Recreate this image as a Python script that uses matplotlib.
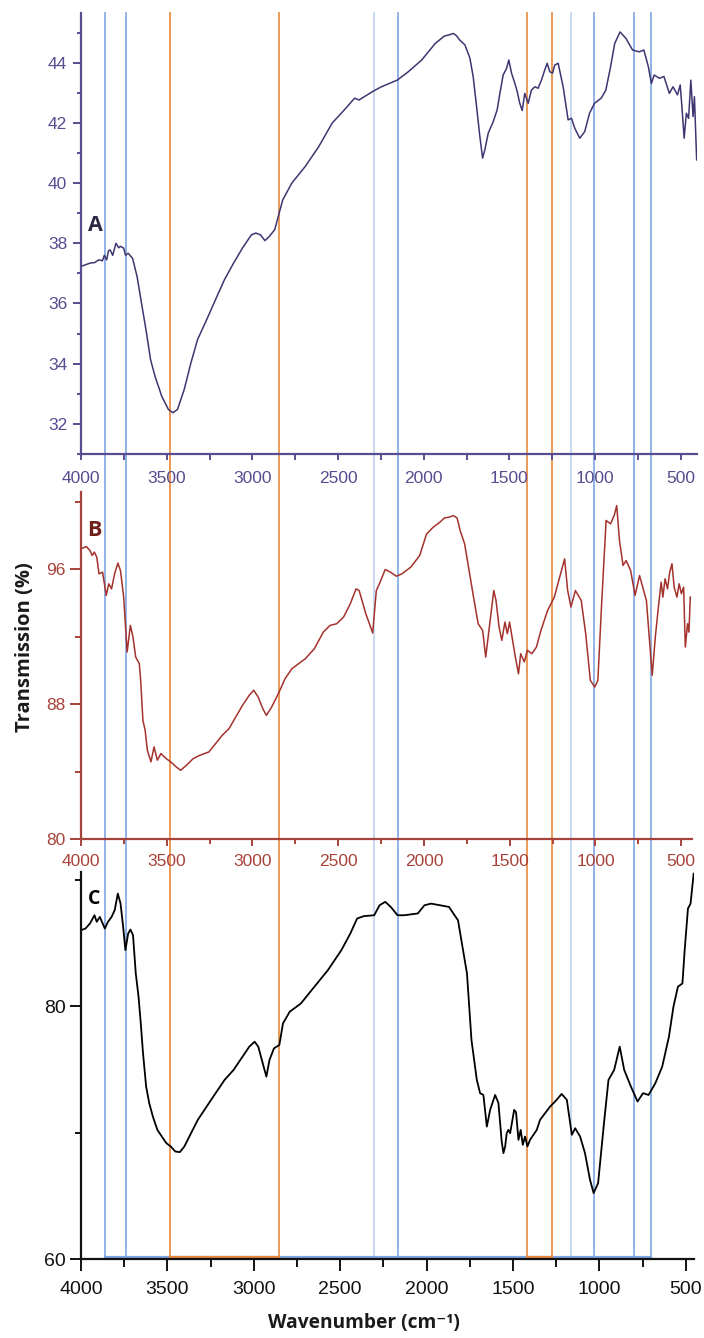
import numpy as np
import matplotlib.pyplot as plt
import matplotlib.transforms as mtransforms
from matplotlib.lines import Line2D
from matplotlib.ticker import MultipleLocator

plt.rcParams['font.family'] = ['Liberation Sans', 'DejaVu Sans']

# --- spectrum A (transmission %) ---
wn_a = [4000, 3948, 3920, 3895, 3875, 3864, 3850, 3840, 3830, 3815, 3796, 3780, 3770, 3751, 3740,
        3725, 3699, 3673, 3647, 3621, 3594, 3568, 3529, 3490, 3464, 3437, 3398, 3359, 3320, 3267,
        3215, 3163, 3110, 3058, 3006, 2980, 2953, 2927, 2901, 2870, 2849, 2823, 2770, 2692,
        2613, 2535, 2456, 2404, 2378, 2299, 2247, 2155, 2090, 2012, 1933, 1881, 1855, 1828, 1810,
        1790, 1760, 1731, 1712, 1692, 1673, 1657, 1644, 1624, 1595, 1572, 1556, 1537, 1517,
        1504, 1488, 1469, 1455, 1440, 1426, 1411, 1391, 1372, 1352, 1333, 1313, 1294, 1280,
        1265, 1249, 1236, 1216, 1187, 1158, 1138, 1119, 1090, 1061, 1033, 1004, 965, 938,
        912, 886, 855, 821, 782, 743, 716, 690, 672, 656, 625, 599, 567, 546, 520, 504, 494,
        481, 468, 455, 442, 429, 421, 408]
tr_a = [37.23, 37.34, 37.36, 37.45, 37.42, 37.6, 37.45, 37.75, 37.78, 37.6, 38.0, 37.85, 37.9, 37.84,
        37.6, 37.67, 37.5, 36.9, 36.01, 35.13, 34.13, 33.58, 32.92, 32.48, 32.37, 32.48, 33.14, 34.02,
        34.8, 35.46, 36.13, 36.79, 37.34, 37.84, 38.28, 38.34, 38.28, 38.09, 38.23, 38.45, 38.89,
        39.44, 40.0, 40.55, 41.21, 41.99, 42.48, 42.82, 42.76, 43.04, 43.2, 43.42, 43.7, 44.09,
        44.64, 44.88, 44.92, 44.97, 44.9, 44.75, 44.59, 44.15, 43.54, 42.54, 41.55, 40.83, 41.1,
        41.66, 42.04, 42.43, 42.98, 43.59, 43.81, 44.09, 43.65, 43.32, 43.04, 42.65, 42.41, 42.98,
        42.65, 43.09, 43.2, 43.15, 43.43, 43.76, 43.98, 43.7, 43.65, 43.92, 43.98, 43.2, 42.1,
        42.15, 41.82, 41.49, 41.71, 42.32, 42.65, 42.82, 43.09, 43.81, 44.64, 45.02, 44.81, 44.42,
        44.36, 44.42, 43.87, 43.31, 43.59, 43.48, 43.54, 42.98, 43.2, 42.93, 43.26, 42.54, 41.49,
        42.32, 42.15, 43.42, 42.21, 42.87, 40.77]

# --- spectrum B ---
wn_b = [4000, 3969, 3948, 3935, 3922, 3908, 3895, 3874, 3853, 3838, 3822, 3804, 3785, 3770,
        3751, 3731, 3712, 3697, 3681, 3660, 3652, 3639, 3626, 3613, 3592, 3574, 3555, 3534,
        3503, 3477, 3445, 3419, 3385, 3346, 3307, 3254, 3215, 3176, 3137, 3097, 3058, 3019,
        2993, 2967, 2940, 2919, 2888, 2849, 2810, 2770, 2731, 2692, 2639, 2587, 2548, 2509,
        2469, 2430, 2396, 2378, 2339, 2299, 2278, 2260, 2226, 2195, 2161, 2129, 2077, 2025,
        1985, 1946, 1907, 1881, 1855, 1828, 1807, 1789, 1763, 1737, 1711, 1684, 1658, 1640,
        1619, 1593, 1580, 1562, 1546, 1528, 1514, 1501, 1483, 1467, 1449, 1436, 1415, 1397,
        1371, 1344, 1318, 1279, 1240, 1214, 1180, 1162, 1143, 1117, 1083, 1057, 1030, 1004,
        986, 965, 938, 912, 891, 876, 860, 839, 821, 795, 769, 743, 703, 682, 669, 651, 633,
        617, 607, 594, 580, 567, 554, 541, 525, 512, 499, 486, 476, 463, 455, 447]
tr_b = [97.23, 97.36, 97.13, 96.83, 97.03, 96.73, 95.74, 95.84, 94.46, 95.15, 94.85, 95.74, 96.38, 95.94,
        94.36, 91.1, 92.68, 91.99, 90.8, 90.41, 89.42, 87.05, 86.45, 85.27, 84.58, 85.47, 84.68, 85.07,
        84.77, 84.58, 84.28, 84.08, 84.38, 84.77, 84.97, 85.17, 85.66, 86.16, 86.55, 87.25, 87.94, 88.53,
        88.83, 88.43, 87.74, 87.34, 87.84, 88.63, 89.52, 90.11, 90.41, 90.7, 91.3, 92.28, 92.68, 92.78,
        93.17, 93.96, 94.85, 94.75, 93.37, 92.23, 94.75, 95.15, 96.0, 95.84, 95.6, 95.74, 96.14, 96.83,
        98.11, 98.51, 98.81, 99.06, 99.1, 99.2, 99.06, 98.31, 97.52, 95.94, 94.36, 92.78, 92.38, 90.8,
        92.58, 94.75, 94.16, 92.58, 91.79, 92.88, 92.19, 92.88, 91.79, 90.8, 89.81, 91.0, 90.51, 91.2,
        91.0, 91.4, 92.38, 93.57, 94.36, 95.35, 96.63, 94.75, 93.77, 94.75, 94.16, 92.19, 89.42, 89.02,
        89.42, 93.77, 98.91, 98.71, 99.2, 99.79, 97.72, 96.24, 96.53, 95.94, 94.46, 95.64, 94.16, 91.4,
        89.72, 91.99, 93.77, 95.25, 94.36, 95.45, 94.85, 95.84, 96.34, 94.95, 94.36, 95.15, 94.56, 94.95,
        91.4, 92.78, 92.28, 94.36]

# --- spectrum C ---
wn_c = [4000, 3974, 3948, 3922, 3909, 3891, 3862, 3844, 3823, 3805, 3787, 3771, 3756, 3743,
        3727, 3714, 3699, 3683, 3667, 3654, 3641, 3623, 3605, 3584, 3558, 3532, 3506, 3480,
        3454, 3428, 3402, 3363, 3324, 3273, 3221, 3169, 3117, 3065, 3026, 2995, 2974, 2948,
        2927, 2909, 2883, 2852, 2831, 2792, 2727, 2649, 2571, 2493, 2441, 2402, 2363, 2303,
        2272, 2239, 2207, 2168, 2129, 2051, 2012, 1974, 1922, 1870, 1838, 1818, 1792, 1766,
        1740, 1709, 1690, 1671, 1651, 1632, 1603, 1584, 1565, 1555, 1545, 1536, 1526, 1516,
        1493, 1482, 1468, 1455, 1443, 1430, 1416, 1401, 1362, 1343, 1314, 1285, 1256, 1218,
        1188, 1159, 1140, 1111, 1083, 1054, 1033, 1007, 973, 947, 914, 882, 856, 817, 779,
        747, 715, 676, 636, 597, 571, 545, 519, 506, 487, 472, 454]
tr_c = [86.0, 86.13, 86.53, 87.18, 86.66, 87.05, 86.13, 86.66, 87.05, 87.58, 88.89, 88.1, 86.26, 84.42,
        85.74, 86.05, 85.61, 82.58, 80.74, 78.63, 76.26, 73.63, 72.32, 71.26, 70.21, 69.68, 69.16, 68.89,
        68.5, 68.45, 68.89, 69.95, 71.0, 72.05, 73.11, 74.16, 74.95, 76.0, 76.79, 77.18, 76.79, 75.47,
        74.42, 75.74, 76.66, 76.92, 78.63, 79.55, 80.21, 81.53, 82.84, 84.42, 85.74, 86.92, 87.11, 87.18,
        87.97, 88.24, 87.84, 87.18, 87.18, 87.32, 87.97, 88.1, 87.97, 87.84, 87.18, 86.79, 84.68, 82.58,
        77.32, 74.16, 73.11, 72.97, 70.47, 71.79, 72.97, 72.34, 69.29, 68.37, 68.9, 69.95, 70.21, 69.95,
        71.79, 71.6, 69.42, 70.21, 69.03, 69.68, 68.9, 69.42, 70.21, 71.0, 71.53, 72.05, 72.45, 73.05,
        72.58, 69.82, 70.34, 69.68, 68.37, 66.27, 65.21, 66.0, 70.74, 74.16, 74.95, 76.79, 74.95, 73.63,
        72.45, 73.11, 72.97, 73.89, 75.21, 77.58, 79.95, 81.53, 81.79, 84.42, 87.71, 88.1, 90.47]

# marked band positions (cm-1)
band_pos = [3861, 3739, 3480, 2846, 2291, 2150, 1396, 1253, 1140, 1009, 774, 674]
band_kind = ['blue', 'blue', 'orange', 'orange', 'light', 'blue',
             'orange', 'orange', 'light', 'blue', 'blue', 'blue']
orange_pairs = [(3480, 2846), (1396, 1253)]

band_colors = {'blue': '#7ea7e2', 'light': '#bcd3ef', 'orange': '#e8893a'}

W, H = 704, 1338
fig = plt.figure(figsize=(W / 100, H / 100), dpi=100)


def box(l, t, r, b):
    return [l / W, 1 - b / H, (r - l) / W, (b - t) / H]


ax_a = fig.add_axes(box(81, 13, 697, 454))
ax_b = fig.add_axes(box(81, 492, 691.5, 839))
ax_c = fig.add_axes(box(81, 872, 694, 1259))

ax_a.plot(wn_a, tr_a, color='#3f3571', lw=1.1)
ax_b.plot(wn_b, tr_b, color='#a3322c', lw=1.1)
ax_c.plot(wn_c, tr_c, color='black', lw=1.3)

ax_a.set_xlim(4000, 406)
ax_b.set_xlim(4000, 440)
ax_c.set_xlim(4000, 452)
ax_a.set_ylim(31.0, 45.65)
ax_b.set_ylim(80, 100.6)
ax_c.set_ylim(60, 90.6)


def style(ax, col, fs, ymaj, ymin, xlen, xpad, ylen, ypad):
    ax.set_facecolor('none')
    for s in ['top', 'right']:
        ax.spines[s].set_visible(False)
    for s in ['left', 'bottom']:
        ax.spines[s].set_color(col)
        ax.spines[s].set_linewidth(1.6)
    ax.xaxis.set_major_locator(MultipleLocator(500))
    ax.xaxis.set_minor_locator(MultipleLocator(250))
    ax.yaxis.set_major_locator(MultipleLocator(ymaj))
    ax.yaxis.set_minor_locator(MultipleLocator(ymin))
    ax.tick_params(axis='x', which='major', length=xlen, width=1.4, pad=xpad,
                   color=col, labelcolor=col, labelsize=fs)
    ax.tick_params(axis='x', which='minor', length=xlen * 0.7, width=1.4, color=col)
    ax.tick_params(axis='y', which='major', length=ylen, width=1.4, pad=ypad,
                   color=col, labelcolor=col, labelsize=fs)
    ax.tick_params(axis='y', which='minor', length=ylen * 0.5, width=1.4, color=col)


style(ax_a, '#5a4c90', 12.5, 2, 1, 4, 8, 6, 4)
style(ax_b, '#a8433b', 12.5, 8, 4, 5, 6, 8, 3)
style(ax_c, '#111111', 14, 20, 10, 8.5, 7, 8, 3)
ax_a.tick_params(axis='x', which='minor', length=4)

# panel letters
lbl = dict(fontfamily=['Open Sans', 'DejaVu Sans'], fontweight='bold',
           ha='center', va='center')
ax_a.text(3917, 38.6, 'A', color='#2e2743', fontsize=15.5, **lbl)
ax_b.text(3922, 98.3, 'B', color='#6e201b', fontsize=15.5, **lbl)
ax_c.text(3923, 88.5, 'C', color='black', fontsize=14, **lbl)

fig.text(25.5 / W, 1 - 647 / H, 'Transmission (%)', rotation=90, fontsize=14.5,
         color='#1a1a1a', **lbl)
fig.text(364 / W, 1 - 1323 / H, 'Wavenumber (cm⁻¹)', fontsize=13.8,
         color='#1a1a1a', **lbl)

# band marker lines running through all three panels
trans = mtransforms.blended_transform_factory(ax_a.transData, fig.transFigure)
y_top, y_bot = 1 - 13 / H, 1 - 1257 / H
for p, k in zip(band_pos, band_kind):
    fig.add_artist(Line2D([p, p], [y_bot, y_top], transform=trans,
                          color=band_colors[k], lw=1.2, zorder=-1))
fig.add_artist(Line2D([band_pos[0], band_pos[-1]], [y_bot, y_bot], transform=trans,
                      color=band_colors['blue'], lw=1.6, zorder=-1))
for p0, p1 in orange_pairs:
    fig.add_artist(Line2D([p0, p1], [y_bot, y_bot], transform=trans,
                          color=band_colors['orange'], lw=1.6, zorder=-1))

fig.savefig('out.png', dpi=100)
